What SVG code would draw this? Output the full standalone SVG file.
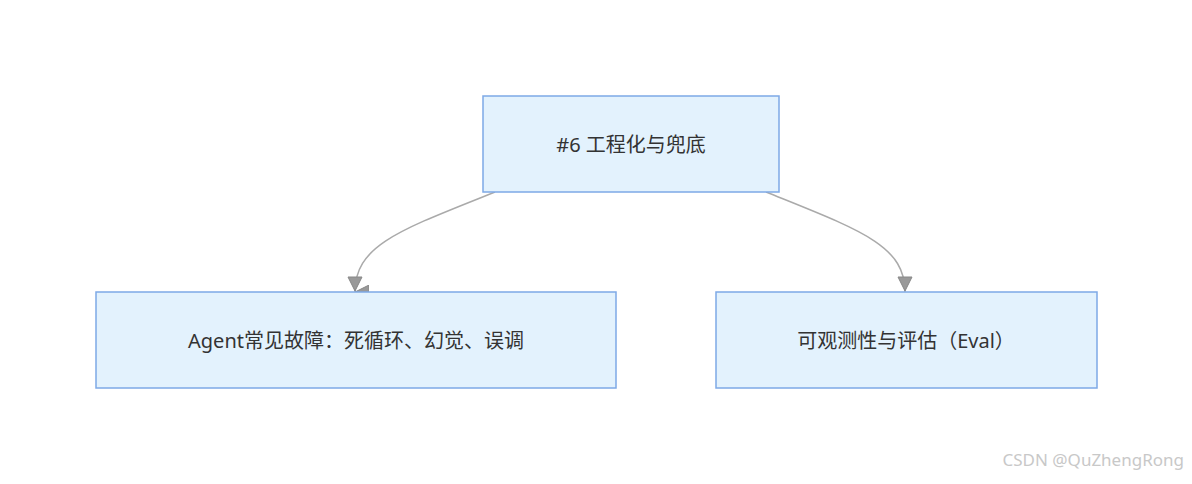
<svg xmlns="http://www.w3.org/2000/svg" width="1192" height="484" viewBox="0 0 1192 484">
<style>
.n{fill:#e3f2fd;stroke:#7ea9e6;stroke-width:1.5}
.t{font-family:"Noto Sans","Noto Sans CJK SC",sans-serif;font-size:20px;fill:#333;text-anchor:middle;dominant-baseline:central}
.e{fill:none;stroke:#aaa;stroke-width:1.5}
</style>
<defs><marker id="a" markerWidth="14" markerHeight="14" refX="7" refY="14" orient="auto" markerUnits="userSpaceOnUse"><path d="M0,0 L14,0 L7,14 Z" fill="#999" stroke="#888"/></marker></defs>
<rect width="1192" height="484" fill="#fff"/>
<g id="edges">
<path class="e" d="M495,192 C400,230 355,245 355,292" marker-end="url(#a)" transform="translate(0,0)"/>
<path class="e" d="M766,192 C860,230 905,245 905,292"/>
<path d="M348,277 L362,277 L355,291 Z M898,277 L912,277 L905,291 Z" fill="#999" stroke="#888"/>
</g>
<g id="n1"><rect class="n" x="483" y="96" width="296" height="96"/><text class="t" x="631" y="144">#6 工程化与兜底</text></g>
<g id="n2"><rect class="n" x="96" y="292" width="520" height="96"/><text class="t" x="356" y="340">Agent常见故障：死循环、幻觉、误调</text></g>
<g id="n3"><rect class="n" x="716" y="292" width="381" height="96"/><text class="t" x="906" y="340">可观测性与评估（Eval）</text></g>
<text x="1184" y="466" font-family="Noto Sans,sans-serif" font-size="17" fill="#c8c8c8" text-anchor="end">CSDN @QuZhengRong</text>
</svg>
